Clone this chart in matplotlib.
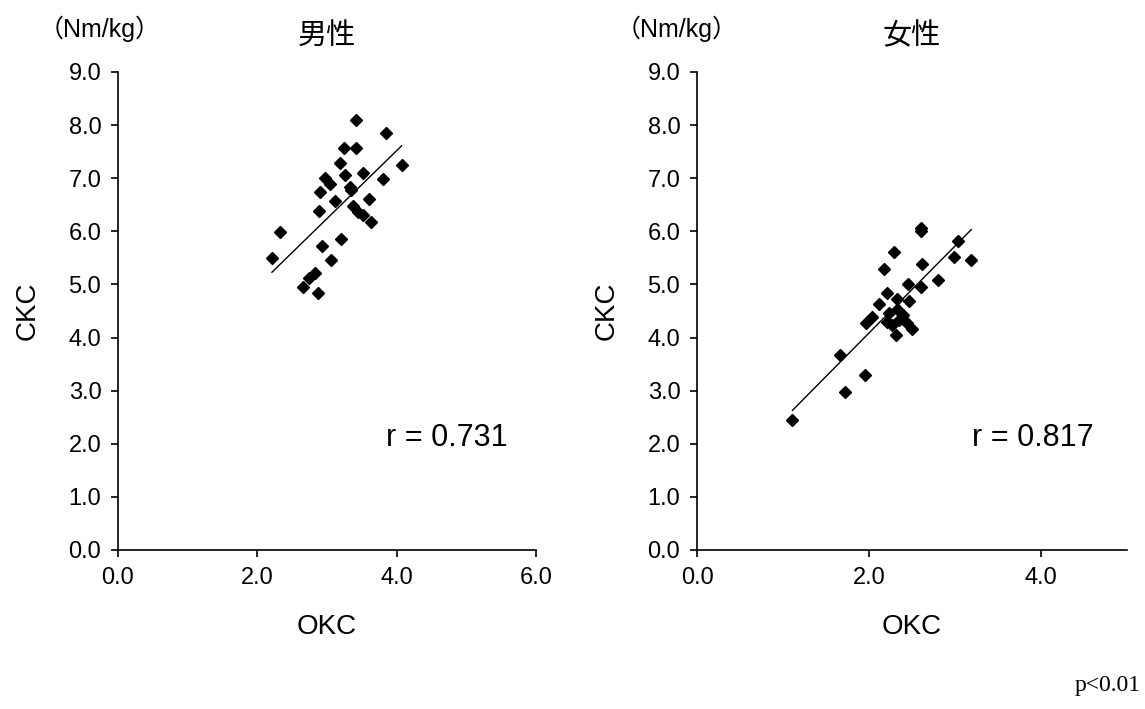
import numpy as np
import matplotlib.pyplot as plt
from matplotlib.ticker import FormatStrFormatter

# data (OKC, CKC in Nm/kg)
male_okc = [3.41, 3.85, 3.25, 3.42, 4.07, 3.19, 3.26, 3.52, 2.97, 3.04,
            3.80, 2.90, 3.33, 3.35, 3.11, 3.60, 2.88, 3.38, 3.45, 3.51,
            3.63, 2.32, 3.20, 2.93, 2.21, 3.06, 2.83, 2.74, 2.66, 2.87]
male_ckc = [8.10, 7.86, 7.56, 7.56, 7.25, 7.29, 7.06, 7.09, 7.00, 6.90,
            6.99, 6.75, 6.83, 6.77, 6.58, 6.61, 6.39, 6.47, 6.37, 6.31,
            6.18, 5.98, 5.86, 5.72, 5.50, 5.46, 5.21, 5.12, 4.95, 4.83]

female_okc = [2.61, 2.60, 3.03, 2.29, 2.99, 3.19, 2.17, 2.62, 2.80, 2.45,
              2.60, 2.21, 2.32, 2.46, 2.12, 2.23, 2.34, 2.39, 2.04, 1.97,
              2.21, 2.27, 2.35, 2.44, 2.50, 2.31, 1.66, 1.95, 1.72, 1.11]
female_ckc = [6.06, 6.00, 5.81, 5.62, 5.51, 5.46, 5.30, 5.38, 5.08, 5.01,
              4.96, 4.83, 4.72, 4.68, 4.63, 4.46, 4.52, 4.43, 4.38, 4.28,
              4.30, 4.24, 4.33, 4.27, 4.17, 4.05, 3.67, 3.30, 2.98, 2.44]

titles = ["男性", "女性"]
r_labels = ["r = 0.731", "r = 0.817"]
x_limits = [6.0, 5.0]
x_ticks = [[0, 2, 4, 6], [0, 2, 4]]
y_ticks = np.arange(0, 10, 1)

plt.rcParams['font.family'] = ['Liberation Sans', 'Noto Sans CJK JP', 'DejaVu Sans']
cjk = ['Noto Sans CJK JP', 'DejaVu Sans']

fig = plt.figure(figsize=(11.45, 7.09), dpi=100)
W, H = 1145, 709
boxes = [(118, 536), (697, 1127)]
y_top, y_bot = 72, 550

panels = [(male_okc, male_ckc), (female_okc, female_ckc)]
for i, (xs, ys) in enumerate(panels):
    x0, x1 = boxes[i]
    ax = fig.add_axes([x0 / W, 1 - y_bot / H, (x1 - x0) / W, (y_bot - y_top) / H])
    ax.plot(xs, ys, linestyle='none', marker='D', markersize=6.2, color='black')

    # linear trend line over the data range
    k, b = np.polyfit(xs, ys, 1)
    xl = np.array([min(xs), max(xs)])
    ax.plot(xl, k * xl + b, color='black', linewidth=1.0)

    ax.set_xlim(0, x_limits[i])
    ax.set_ylim(0, 9)
    ax.set_xticks(x_ticks[i])
    ax.set_yticks(y_ticks)
    ax.xaxis.set_major_formatter(FormatStrFormatter('%.1f'))
    ax.yaxis.set_major_formatter(FormatStrFormatter('%.1f'))
    ax.tick_params(direction='out', length=5, width=1.2, labelsize=17, pad=7)
    for side in ['top', 'right']:
        ax.spines[side].set_visible(False)
    for side in ['left', 'bottom']:
        ax.spines[side].set_linewidth(1.2)

    ax.set_xlabel("OKC", fontsize=20, labelpad=18)
    ax.set_ylabel("CKC", fontsize=20, labelpad=20)
    ax.set_title(titles[i], fontsize=21, family=cjk, pad=20)
    ax.text(-0.19, 1.09, "（Nm/kg）", transform=ax.transAxes, fontsize=18,
            ha='left', va='center')
    ax.text(0.64, 0.235, r_labels[i], transform=ax.transAxes, fontsize=22,
            ha='left', va='center')

fig.text(1141 / W, 1 - 686 / H, "p<0.01", fontsize=17, family=['Liberation Serif'],
         ha='right', va='center')

fig.savefig("out.png", dpi=100)
